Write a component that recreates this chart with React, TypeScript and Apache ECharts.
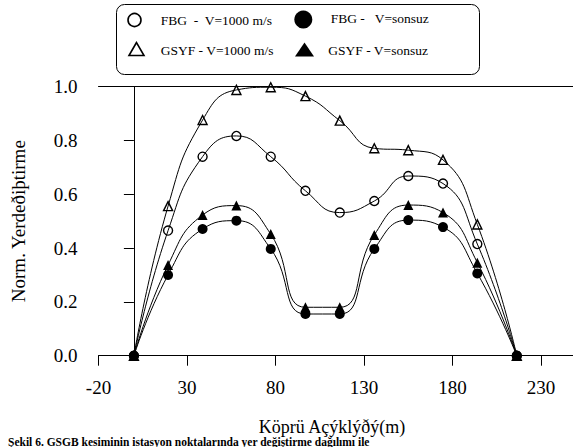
import React, { useEffect, useRef } from "react";
import * as echarts from "echarts";

// Köprü açıklığı (m) — station positions along the bridge
const spanM = [0, 19.3, 38.8, 57.9, 77.3, 96.9, 116.3, 135.8, 155.0, 174.6, 194.0, 216.3];

const gsyf1000 = [0, 0.556, 0.876, 0.988, 0.998, 0.965, 0.874, 0.771, 0.764, 0.728, 0.488, 0];
const fbg1000 = [0, 0.465, 0.74, 0.817, 0.74, 0.613, 0.532, 0.575, 0.668, 0.64, 0.415, 0];
const gsyfSonsuz = [0, 0.337, 0.523, 0.558, 0.452, 0.18, 0.18, 0.449, 0.56, 0.532, 0.346, 0];
const fbgSonsuz = [0, 0.3, 0.471, 0.502, 0.397, 0.155, 0.155, 0.397, 0.504, 0.478, 0.306, 0];

const legendLabels = ["FBG  -  V=1000 m/s", "FBG -   V=sonsuz", "GSYF - V=1000 m/s", "GSYF - V=sonsuz"];
const xAxisTitle = "Köprü Açýklýðý(m)";
const yAxisTitle = "Norm. Yerdeðiþtirme";
const caption = "Şekil 6. GSGB kesiminin istasyon noktalarında yer değiştirme dağılımı ile";

const FONT = "Liberation Serif";

const pairs = (ys: number[]) => spanM.map((x, i) => [x, ys[i]]);

export default function App() {
  const ref = useRef<HTMLDivElement>(null);
  useEffect(() => {
    document.body.style.margin = "0";
    const chart = echarts.init(ref.current!, null, { renderer: "svg" });
    const axisLine = { show: true, lineStyle: { color: "#000", width: 1 } };
    const mkSeries = (name: string, ys: number[], symbol: string, size: number, filled: boolean) => ({
      type: "line",
      name,
      data: pairs(ys),
      smooth: 0.5,
      symbol,
      symbolSize: size,
      showAllSymbol: true,
      lineStyle: { color: "#000", width: 1 },
      itemStyle: filled
        ? { color: "#000", borderColor: "#000", borderWidth: 0 }
        : { color: "transparent", borderColor: "#000", borderWidth: 1.4 },
      emphasis: { disabled: true },
    });
    const txt = (text: string, x: number, y: number, fontSize: number, extra: any = {}) => ({
      type: "text",
      x,
      y,
      style: { text, fontSize, fontFamily: FONT, fontWeight: "normal", fill: "#000", verticalAlign: "middle", ...extra },
    });
    chart.setOption({
      animation: false,
      textStyle: { fontFamily: FONT, fontWeight: "normal" },
      grid: { left: 98.5, top: 86.7, right: 10, bottom: 91.3, containLabel: false },
      xAxis: [
        {
          type: "value",
          position: "bottom",
          min: -20,
          max: 252,
          interval: 50,
          axisLine,
          axisTick: { show: true, length: 10, inside: false, lineStyle: { color: "#000" } },
          axisLabel: { color: "#000", fontSize: 19, fontFamily: FONT, fontWeight: "normal", margin: 22, showMaxLabel: false },
          splitLine: { show: false },
        },
        {
          type: "value",
          position: "top",
          min: -20,
          max: 252,
          interval: 50,
          axisLine,
          axisTick: { show: false },
          axisLabel: { show: false },
          splitLine: { show: false },
        },
      ],
      yAxis: {
        type: "value",
        min: 0,
        max: 1,
        interval: 0.2,
        axisLine,
        axisTick: { show: true, length: 10, inside: false, lineStyle: { color: "#000" } },
        axisLabel: {
          color: "#000",
          fontSize: 19,
          fontFamily: FONT,
          fontWeight: "normal",
          margin: 21,
          formatter: (v: number) => v.toFixed(1),
        },
        splitLine: { show: false },
        name: yAxisTitle,
        nameLocation: "middle",
        nameGap: 71,
        nameTextStyle: { color: "#000", fontSize: 19, fontFamily: FONT, fontWeight: "normal" },
      },
      series: [
        mkSeries(legendLabels[2], gsyf1000, "triangle", 9, false),
        mkSeries(legendLabels[0], fbg1000, "circle", 9, false),
        mkSeries(legendLabels[3], gsyfSonsuz, "triangle", 10, true),
        mkSeries(legendLabels[1], fbgSonsuz, "circle", 10, true),
      ],
      graphic: [
        {
          type: "rect",
          shape: { x: 116.5, y: 4.5, width: 363, height: 70, r: 8 },
          style: { fill: "none", stroke: "#000", lineWidth: 1 },
        },
        { type: "circle", shape: { cx: 134.5, cy: 20, r: 6.5 }, style: { fill: "none", stroke: "#000", lineWidth: 1.6 } },
        { type: "circle", shape: { cx: 303.3, cy: 19.5, r: 9 }, style: { fill: "#000" } },
        {
          type: "polygon",
          shape: { points: [[136.5, 42.5], [129, 55.5], [144, 55.5]] },
          style: { fill: "none", stroke: "#000", lineWidth: 1.6 },
        },
        {
          type: "polygon",
          shape: { points: [[304.5, 42.5], [295, 56.5], [314, 56.5]] },
          style: { fill: "#000" },
        },
        txt(legendLabels[0], 160.7, 20, 13.5),
        txt(legendLabels[1], 330.7, 18.5, 13.5),
        txt(legendLabels[2], 160.7, 50, 13.5),
        txt(legendLabels[3], 328.3, 50, 13.5),
        txt(xAxisTitle, 332, 426.5, 18, { align: "center" }),
        txt(caption, 8, 441.5, 11.5, { fontWeight: "bold" }),
      ],
    });
    return () => chart.dispose();
  }, []);
  return (
    <div style={{ position: "absolute", left: 0, top: 0, width: 573, height: 447, overflow: "hidden", background: "#fff" }}>
      <div ref={ref} style={{ width: 590, height: 447 }} />
    </div>
  );
}
